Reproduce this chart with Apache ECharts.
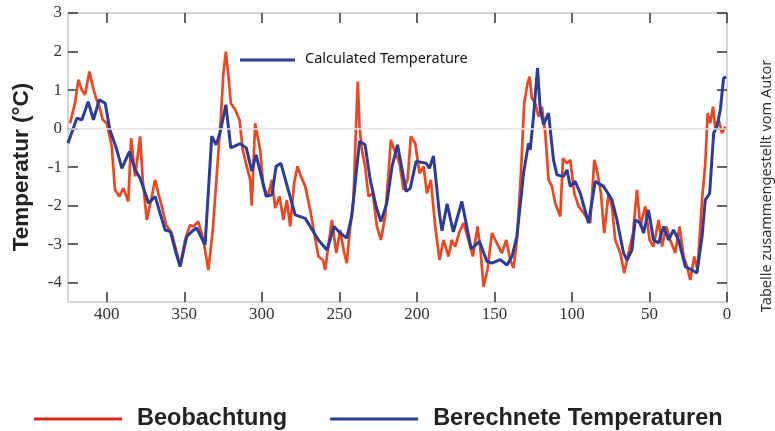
<!DOCTYPE html>
<html>
<head>
<meta charset="utf-8">
<script src="https://cdn.jsdelivr.net/npm/echarts@6/dist/echarts.min.js"></script>
<style>html,body{margin:0;padding:0;background:#fff;}#c{width:775px;height:431px;}</style>
</head>
<body>
<div id="c"></div>
<script>
// Observed temperature (Beobachtung): years before present, anomaly °C
const obsYears = [423.7,420.5,418.3,416.1,414,411.2,409,406.9,404.8,402.6,400,396.8,394.7,391.9,389.3,386.1,384.3,381.7,378.5,376.8,374.2,371,368.8,366.7,364.5,361.7,358.1,354.8,352.7,349.5,346.3,344.1,341,337.7,334.5,331.6,329,326.5,324.8,323.2,321.5,320,317.2,314.4,312.3,309.7,307.5,306.5,304.3,301.1,299,296.1,293.5,291.4,288.6,286.1,283.9,281.7,279.2,277,274.8,272,268.8,266.2,263.5,260.6,259.2,254.8,252,249.5,247.3,245.2,243,240.9,239.2,238.1,237,235.5,233.4,231.2,228.4,225.8,223.2,220.5,218.3,216.8,214.6,211.2,208.6,206,203.9,201.1,198.3,195.7,193.5,191,188.2,185.4,182.8,179.6,177.5,175.3,172.5,169.9,166.7,163.9,160.9,159.2,157,154.5,151.6,148.4,145.2,142.4,139.8,137.7,135.5,132.9,130.8,128.6,127.4,125.8,123.7,121.5,119.4,117.2,115.1,112.9,110.8,107.5,105.8,103.2,101.1,98.5,95.7,92.5,88.2,85.6,83.5,81.3,79.2,76.4,74.2,72.1,68.8,66.3,63.5,60.6,58.1,55.9,52.7,49.9,47.4,44.1,41.9,39.2,36.6,33.4,30.6,28,25.8,23.7,21.1,19,16.1,14,12.5,10.8,9,7.5,5.4,3.2,1.1];
const obsTemps = [0.14,0.66,1.27,1.0,0.88,1.48,1.09,0.79,0.57,0.23,0.14,-0.46,-1.59,-1.76,-1.55,-1.89,-0.25,-1.24,-0.2,-1.33,-2.37,-1.76,-1.33,-1.68,-2.02,-2.5,-2.71,-3.23,-3.58,-2.89,-2.5,-2.54,-2.41,-2.89,-3.67,-2.63,-1.16,0.23,1.44,2.0,1.35,0.66,0.49,0.23,-0.55,-0.98,-1.33,-2.0,0.14,-0.55,-1.5,-1.76,-1.33,-2.06,-1.76,-2.37,-1.85,-2.54,-1.42,-0.98,-1.24,-1.5,-2.11,-2.71,-3.32,-3.41,-3.67,-2.37,-3.23,-2.63,-3.15,-3.49,-2.54,-1.85,0.14,1.22,0.05,-0.55,-0.98,-1.76,-1.68,-2.54,-2.89,-2.28,-1.16,-0.29,-0.55,-0.9,-1.59,-1.33,-0.2,-0.38,-1.16,-0.98,-1.68,-1.33,-2.54,-3.41,-2.89,-3.32,-2.89,-3.06,-2.67,-2.45,-2.89,-3.32,-2.54,-3.06,-4.1,-3.67,-2.71,-2.97,-3.23,-2.89,-3.41,-3.62,-2.89,-1.16,0.66,1.18,1.35,0.79,0.66,0.31,0.57,-0.12,-1.33,-1.5,-1.94,-2.28,-0.77,-0.9,-0.81,-1.68,-2.02,-2.19,-2.45,-0.81,-1.16,-1.68,-2.71,-1.68,-2.02,-2.89,-3.23,-3.75,-3.23,-2.71,-1.59,-2.54,-2.02,-2.89,-3.06,-2.37,-3.06,-2.54,-2.89,-3.23,-2.54,-3.32,-3.58,-3.93,-3.32,-3.67,-1.85,-0.9,0.4,0.14,0.57,-0.03,0.23,-0.12,0.05];
// Calculated temperature (Berechnete Temperaturen)
const calcYears = [425,419.3,416,412,408.6,404.8,401,398,393.5,390.3,385.4,381.7,378.5,373,368.8,365.6,362.4,359,355.9,352.7,348.4,344,342,336.6,332.3,329.5,327,323.2,320,314,310,306.5,303.7,297.2,293.5,290.8,287.7,278.5,272,263.5,258,253.4,249.5,245.2,242,237,233.4,230.1,226.3,223.2,219.4,216,212.5,206.9,204.3,200.5,194,191.9,189.3,185.5,183.8,180.5,176.5,171,165,159.6,154.8,151.6,146.3,141.9,138.7,135.5,131.2,128,126.9,124.8,122.2,120.5,118.3,115.1,111.9,109.7,105.4,103.2,101.1,97.9,94.6,89.3,85,79.6,74.2,71,66.7,64.5,61.3,59.2,55.9,53.8,50.6,47.4,44.1,40.9,37.7,34.5,31.2,26.9,22.6,19.4,16.1,14,11.2,8.6,6.5,4.3,2.2,0.5];
const calcTemps = [-0.38,0.27,0.23,0.7,0.23,0.75,0.66,-0.03,-0.55,-1.03,-0.6,-1.07,-1.29,-1.94,-1.76,-2.2,-2.63,-2.67,-3.15,-3.58,-2.8,-2.63,-2.58,-3.02,-0.2,-0.42,-0.12,0.62,-0.5,-0.39,-0.5,-1.1,-0.68,-1.76,-1.72,-0.98,-0.9,-2.24,-2.33,-2.89,-3.15,-2.54,-2.71,-2.84,-2.28,-0.33,-0.42,-1.33,-2.02,-2.41,-1.94,-0.98,-0.42,-1.63,-1.55,-0.85,-0.9,-1.03,-0.71,-2.2,-2.65,-1.95,-2.68,-1.89,-3.12,-2.93,-3.45,-3.49,-3.4,-3.54,-3.32,-2.8,-1.16,-0.38,-0.55,0.31,1.57,0.53,0.1,0.4,-0.81,-1.2,-1.24,-1.07,-1.5,-1.37,-1.68,-2.45,-1.37,-1.5,-1.85,-2.37,-3.23,-3.41,-3.15,-2.37,-2.45,-2.71,-2.11,-2.89,-2.97,-2.54,-2.89,-2.63,-2.89,-3.58,-3.67,-3.75,-2.8,-1.85,-1.68,-0.12,0.05,0.49,1.31,1.34];
const xTicks = [0,50,100,150,200,250,300,350,400];
const yTicks = [-4,-3,-2,-1,0,1,2,3];

const obsData = obsYears.map((y,i)=>[y, obsTemps[i]]);
const calcData = calcYears.map((y,i)=>[y, calcTemps[i]]);

const tickStyle = {color:'#333', width:1.5};
const labelStyle = {fontFamily:'Liberation Serif', fontSize:17, color:'#333'};

const chart = echarts.init(document.getElementById('c'), null, {renderer:'canvas'});
chart.setOption({
  animation:false,
  backgroundColor:'#fff',
  grid:{left:68, right:48, top:13, bottom:129, show:true, borderColor:'#c8c8c8', borderWidth:1.5, backgroundColor:'#fff'},
  xAxis:[
    {type:'value', min:0, max:425, inverse:true, position:'bottom',
     axisLine:{show:false, onZero:false}, splitLine:{show:false},
     axisTick:{show:true, inside:true, length:10, customValues:xTicks, lineStyle:tickStyle},
     axisLabel:Object.assign({customValues:xTicks, margin:4}, labelStyle)},
    {type:'value', min:0, max:425, inverse:true, position:'top',
     axisLine:{show:false, onZero:false}, splitLine:{show:false},
     axisTick:{show:true, inside:true, length:10, customValues:xTicks, lineStyle:tickStyle},
     axisLabel:{show:false}}
  ],
  yAxis:[
    {type:'value', min:-4.5, max:3, position:'left',
     axisLine:{show:false, onZero:false}, splitLine:{show:false},
     axisTick:{show:true, inside:true, length:10, customValues:yTicks, lineStyle:tickStyle},
     axisLabel:Object.assign({customValues:yTicks, margin:6}, labelStyle)},
    {type:'value', min:-4.5, max:3, position:'right',
     axisLine:{show:false, onZero:false}, splitLine:{show:false},
     axisTick:{show:true, inside:true, length:10, customValues:yTicks, lineStyle:tickStyle},
     axisLabel:{show:false}}
  ],
  legend:{
    left:29, top:402, itemWidth:88, itemHeight:3, itemGap:43, icon:'rect',
    data:[{name:'Beobachtung', itemStyle:{color:'#d9261c'}},{name:'Berechnete Temperaturen', itemStyle:{color:'#2d3f8e'}}],
    textStyle:{fontSize:23.5, fontWeight:'bold', fontFamily:'Liberation Sans', color:'#222', padding:[0,0,0,10]}
  },
  series:[
    {name:'zero', type:'line', data:[], z:1, silent:true,
     markLine:{silent:true, symbol:'none', label:{show:false}, lineStyle:{color:'#e2e2e2', type:'solid', width:1.5}, data:[{yAxis:0}]}},
    {name:'Beobachtung', type:'line', data:obsData, showSymbol:false, z:3,
     lineStyle:{color:'#ea4722', width:2.7}, itemStyle:{color:'#ea4722'}},
    {name:'Berechnete Temperaturen', type:'line', data:calcData, showSymbol:false, z:4,
     lineStyle:{color:'#2b3d98', width:3}, itemStyle:{color:'#2b3d98'}}
  ],
  graphic:[
    {type:'text', x:22, y:167, rotation:Math.PI/2,
     style:{text:'Temperatur (°C)', fontSize:22.5, fontWeight:'bold', fontFamily:'Liberation Sans', fill:'#222', align:'center', verticalAlign:'middle'}},
    {type:'line', shape:{x1:240, y1:60, x2:295, y2:60}, style:{stroke:'#2b3d98', lineWidth:3}},
    {type:'text', x:305, y:59,
     style:{text:'Calculated Temperature', fontSize:14.5, fontFamily:'Noto Sans', fill:'#111', align:'left', verticalAlign:'middle'}},
    {type:'text', x:767, y:186, rotation:Math.PI/2,
     style:{text:'Tabelle zusammengestellt vom Autor', fontSize:14.5, fontFamily:'Noto Sans', fill:'#333', align:'center', verticalAlign:'middle'}}
  ]
});
</script>
</body>
</html>
